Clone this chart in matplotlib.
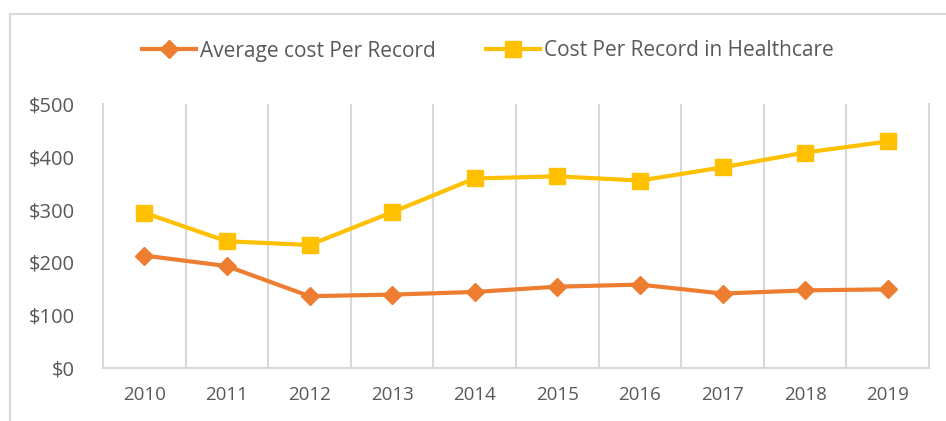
import matplotlib.pyplot as plt
from matplotlib.ticker import FixedLocator, FuncFormatter
from matplotlib.patches import Rectangle

years = ["2010", "2011", "2012", "2013", "2014", "2015", "2016", "2017", "2018", "2019"]
avg_cost = [213, 193, 136, 139, 144, 154, 158, 141, 147, 149]
healthcare_cost = [294, 240, 233, 295, 359, 363, 355, 380, 408, 429]

color_avg = "#ED7D31"
color_health = "#FFC000"
grid_color = "#D9D9D9"
text_color = "#595959"

plt.rcParams["font.family"] = ["Open Sans", "DejaVu Sans"]

fig = plt.figure(figsize=(9.46, 4.21), dpi=100)
ax = fig.add_axes((103 / 946, 1 - 368 / 421, (929 - 103) / 946, (368 - 104) / 421))

# outer chart border (only top and left visible in the crop)
fig.patches.append(Rectangle((9.5 / 946, -0.1), 1.2, 1 - 14 / 421 + 0.1,
                             transform=fig.transFigure, fill=False,
                             edgecolor=grid_color, linewidth=1.5))

x = list(range(len(years)))
ax.plot(x, avg_cost, color=color_avg, lw=3, marker="D", markersize=9,
        label="Average cost Per Record", zorder=3)
ax.plot(x, healthcare_cost, color=color_health, lw=3, marker="s", markersize=12,
        label="Cost Per Record in Healthcare", zorder=3)

ax.set_xlim(-0.5, len(years) - 0.5)
ax.set_ylim(0, 500)
ax.set_xticks(x)
ax.set_xticklabels(years)
ax.xaxis.set_minor_locator(FixedLocator([i + 0.5 for i in range(len(years) - 1)]))
ax.grid(which="minor", axis="x", color=grid_color, lw=1.5)
ax.set_yticks([0, 100, 200, 300, 400, 500])
ax.yaxis.set_major_formatter(FuncFormatter(lambda v, p: f"${v:.0f}"))

ax.tick_params(which="both", length=0)
ax.tick_params(axis="y", labelsize=14.5, labelcolor=text_color, pad=20)
ax.tick_params(axis="x", labelsize=13.5, labelcolor=text_color, pad=13)

ax.spines["top"].set_visible(False)
for s in ["left", "right", "bottom"]:
    ax.spines[s].set_color(grid_color)
    ax.spines[s].set_linewidth(1.5)

fig.legend(loc="center", bbox_to_anchor=(488 / 946, 1 - 51 / 421), ncol=2,
           frameon=False, fontsize=15, labelcolor=text_color,
           handlelength=2.6, columnspacing=2.4, handletextpad=0.2)

fig.savefig("out.png", dpi=100)
